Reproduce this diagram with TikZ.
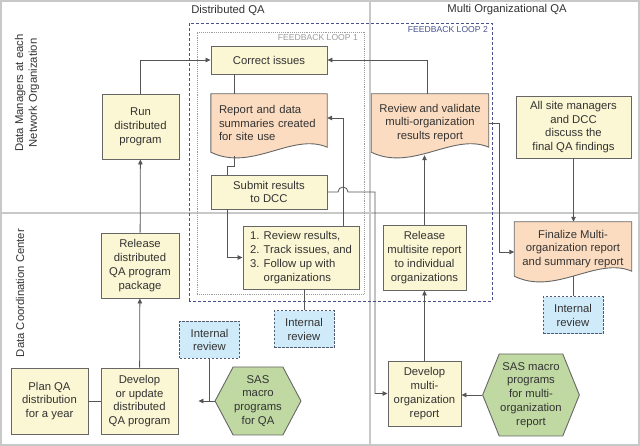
\documentclass[tikz,border=0pt]{standalone}
\usepackage{fontspec}
\setmainfont{Liberation Sans}
\usetikzlibrary{positioning, calc, backgrounds, shapes.symbols, arrows.meta}

\definecolor{taskfill}{HTML}{FBF6D3}
\definecolor{docfill}{HTML}{FBDCC0}
\definecolor{reviewfill}{HTML}{CFEAF8}
\definecolor{sasfill}{HTML}{C0D9A3}
\definecolor{boxline}{HTML}{666666}
\definecolor{edgegray}{HTML}{555555}
\definecolor{laneline}{HTML}{C8C8C8}
\definecolor{reviewline}{HTML}{4E5A70}
\definecolor{loopnavy}{HTML}{46518E}
\definecolor{loopgray}{HTML}{9C9C9C}
\definecolor{textgray}{HTML}{333333}

\begin{document}
\begin{tikzpicture}[ % pixel-like units, origin bottom left
x=1pt, y=1pt,
every node/.style={font=\fontsize{11.3}{13.8}\selectfont, text=textgray},
task_box/.style={rectangle, draw=boxline, fill=taskfill, line width=0.9pt, align=center, inner sep=2pt},
doc_box/.style={rectangle, inner xsep=8pt, inner ysep=2pt},
doc_shape/.style={draw=boxline, fill=docfill, line width=0.9pt},
review_box/.style={rectangle, draw=reviewline, fill=reviewfill, line width=1pt, dash pattern=on 2.5pt off 1.5pt, align=center, minimum width=60pt, minimum height=37pt, inner sep=1pt},
sas_hex/.style={signal, signal to=west and east, draw=boxline, fill=sasfill, line width=0.9pt, align=center, inner xsep=1pt},
out_arrow/.style={-{Triangle[length=5pt,width=4.5pt]}, draw=edgegray, line width=0.8pt},
plain_edge/.style={draw=edgegray, line width=0.8pt},
lane_line/.style={draw=laneline, line width=1.2pt},
loop_label/.style={anchor=east, font=\fontsize{8.6}{10}\selectfont, inner sep=0pt}
]
\useasboundingbox (0,0) rectangle (640,446);

% swim lanes
\draw[lane_line] (1,1) rectangle (639,445);
\draw[lane_line] (1,233) -- (639,233);
\draw[lane_line] (370,1) -- (370,445);

\node(head_dist) at (228,436) {Distributed QA};
\node(head_multi) at (507,436) {Multi Organizational QA};
\node[rotate=90, align=center](lane_dm) at (27,353) {Data Managers at each\\Network Organization};
\node[rotate=90](lane_dcc) at (20,153) {Data Coordination Center};

% feedback loops
\draw[loopgray, densely dotted, line width=0.9pt] (197,152) rectangle (364,414);
\draw[loopnavy, dash pattern=on 3pt off 2pt, line width=0.9pt] (189,145) rectangle (492,423);
\node[loop_label, text=loopgray](loop_one) at (358,408) {FEEDBACK LOOP 1};
\node[loop_label, text=loopnavy](loop_two) at (488,416) {FEEDBACK LOOP 2};

% distributed QA
\node[task_box, minimum width=77pt, minimum height=65pt](run) at (140.5,319.5) {Run\\distributed\\program};
\node[task_box, minimum width=116pt, minimum height=28pt](correct) at (269,386) {Correct issues};
\node[doc_box, text width=100pt, minimum height=58pt, align=left](report) at (269,323) {Report and data\\summaries created\\for site use};
\node[task_box, minimum width=116pt, minimum height=34pt](submit) at (269,254) {Submit results\\to DCC};
\node[task_box, minimum width=116pt, minimum height=63pt, align=left](checks) at (301,188.5) {1. Review results,\\2. Track issues, and\\3. Follow up with\\\phantom{3. }organizations};
\node[review_box](ir_mid) at (304,116.5) {Internal\\review};
\node[review_box](ir_left) at (209.5,106) {Internal\\review};
\node[sas_hex, minimum height=68pt, signal pointer angle=124](sas_qa) at (258,45) {SAS\\macro\\programs\\for QA};
\node[task_box, minimum width=77pt, minimum height=66pt](develop_qa) at (139.5,45) {Develop\\or update\\distributed\\QA program};
\node[task_box, minimum width=77pt, minimum height=66pt](plan_qa) at (49.5,45) {Plan QA\\distribution\\for a year};
\node[task_box, minimum width=78pt, minimum height=65pt](release_qa) at (140,180.5) {Release\\distributed\\QA program\\package};

% multi organizational QA
\node[doc_box, minimum width=114pt, minimum height=58pt, align=center](validate) at (430,323) {Review and validate\\multi-organization\\results report};
\node[task_box, minimum width=115pt, minimum height=62pt](all_site) at (573.5,319) {All site managers\\and DCC\\discuss the\\final QA findings};
\node[doc_box, minimum width=116pt, minimum height=54pt, align=center](finalize) at (573,197) {Finalize Multi-\\organization report\\and summary report};
\node[review_box](ir_right) at (573,130.5) {Internal\\review};
\node[task_box, minimum width=83pt, minimum height=65pt](release_multi) at (424.5,188.5) {Release\\multisite report\\to individual\\organizations};
\node[task_box, minimum width=73pt, minimum height=65pt](develop_multi) at (424.5,52.5) {Develop\\multi-\\organization\\report};
\node[sas_hex, minimum height=82pt, signal pointer angle=136](sas_multi) at (531,51) {SAS macro\\programs\\for multi-\\organization\\report};

% document outlines behind the text
\begin{pgfonlayer}{background}
\foreach \d in {report, validate, finalize}
  \draw[doc_shape] (\d.north west) -- (\d.north east) -- ([yshift=5pt]\d.south east)
    .. controls ($(\d.south east)!0.3!(\d.south west)+(0,20)$) and ($(\d.south east)!0.65!(\d.south west)+(0,-20)$) .. (\d.south west) -- cycle;
\end{pgfonlayer}

% connectors
\draw[plain_edge](plan_qa) -- (develop_qa);
\draw[out_arrow](develop_qa) -- (release_qa);
\draw[out_arrow](release_qa) -- (run);
\draw[out_arrow](run.north) |- (correct.west);
\draw[plain_edge]([xshift=-35pt]correct.south) -- ([xshift=-35pt]report.north);
\draw[plain_edge]([xshift=-35pt,yshift=-4pt]report.south) -- ++(0,-10) -| ([xshift=-42pt]submit.north);
\draw[out_arrow]([xshift=-42pt]submit.south) |- (checks.west);
\draw[out_arrow]([xshift=42pt]checks.north) |- ([yshift=5pt]report.east);
\coordinate(hop) at ([xshift=42pt]checks.north |- submit.east);
\draw[out_arrow](submit.east) -- ([xshift=-5pt]hop) arc[start angle=180, end angle=0, radius=5pt] -- ++(27,0) |- (develop_multi.west);
\draw[plain_edge](ir_mid.north) -- (ir_mid.north |- checks.south);
\draw[out_arrow, shorten >=20pt](sas_qa.west) -- (develop_qa.east |- sas_qa.west);
\draw[plain_edge](ir_left.south) -- (ir_left.south |- sas_qa.west);

\draw[out_arrow]([xshift=-3pt]validate.north) |- (correct.east);
\draw[out_arrow](validate.east) -- ++(11,0) |- ([yshift=-3pt]finalize.west);
\draw[out_arrow](all_site.south) -- (all_site.south |- finalize.north);
\draw[plain_edge](finalize.south) -- (ir_right.north);
\draw[out_arrow](release_multi.north) -- ([yshift=-3pt]release_multi.north |- validate.south);
\draw[out_arrow](develop_multi) -- (release_multi);
\draw[out_arrow](sas_multi.west) -- (develop_multi.east |- sas_multi.west);
\end{tikzpicture}
\end{document}
